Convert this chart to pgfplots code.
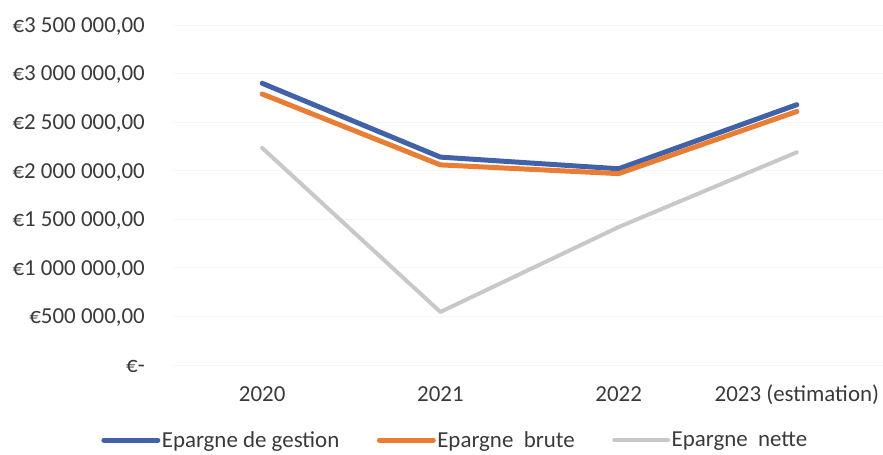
\documentclass[border=0pt]{standalone}
\usepackage{fontspec}
\setmainfont{Carlito}
\usepackage{pgfplots}
\pgfplotsset{compat=1.18}
\definecolor{cblue}{HTML}{4262A8}
\definecolor{corange}{HTML}{EA7D34}
\definecolor{cgray}{HTML}{C8C8C8}
\definecolor{ctext}{HTML}{3A3A3A}
\begin{document}
\begin{tikzpicture}
\useasboundingbox (0,0) rectangle (883bp,455bp);
\begin{axis}[
  at={(173bp,90bp)}, anchor=south west,
  scale only axis, width=713bp, height=340bp,
  xmin=-0.5, xmax=3.5, ymin=0, ymax=3500000,
  clip=false,
  axis line style={draw=none},
  major tick style={draw=none},
  xtick={0,1,2,3},
  xticklabels={2020,2021,2022,2023 (estimation)},
  ytick={0,500000,1000000,1500000,2000000,2500000,3000000,3500000},
  yticklabels={{€-},{€500 000,00},{€1 000 000,00},{€1 500 000,00},{€2 000 000,00},{€2 500 000,00},{€3 000 000,00},{€3 500 000,00}},
  scaled y ticks=false,
  ymajorgrids, major grid style={draw=gray!7, line width=0.75bp},
  ticklabel style={font=\fontsize{23}{27}\selectfont, text=ctext, inner sep=0pt},
  yticklabel style={anchor=base east, xshift=-28bp, yshift=-7.3bp},
  xticklabel style={anchor=base, yshift=-36bp},
  legend columns=3,
  legend style={draw=none, fill=none, font=\fontsize{23}{27}\selectfont, text=ctext,
    at={(0.3955,-0.221)}, anchor=center,
    nodes={inner sep=1.5bp},
    /tikz/every even column/.append style={column sep=36bp}},
  legend image code/.code={\draw[#1] (0bp,0bp) -- (54bp,0bp);},
  every axis plot/.append style={line join=round, line cap=round},
]
\addplot[cblue, line width=5bp] coordinates {(0,2900000) (1,2140000) (2,2020000) (3,2680000)};
\addlegendentry{Epargne de gestion}
\addplot[corange, line width=5bp] coordinates {(0,2790000) (1,2060000) (2,1970000) (3,2610000)};
\addlegendentry{Epargne\ \ brute}
\addplot[cgray, line width=4bp] coordinates {(0,2235000) (1,546000) (2,1420000) (3,2190000)};
\addlegendentry{Epargne\ \ nette}
\end{axis}
\end{tikzpicture}
\end{document}
